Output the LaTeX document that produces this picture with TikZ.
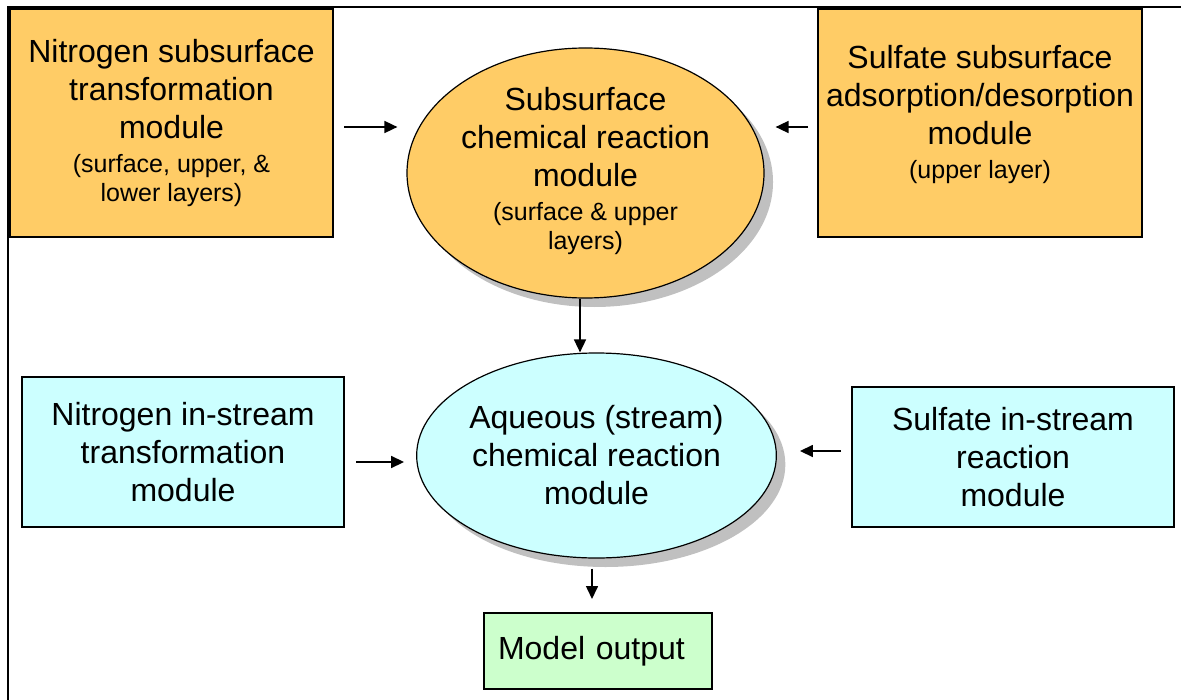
\documentclass[tikz,border=0pt]{standalone}
\usepackage{fontspec}
\setmainfont{Liberation Sans}
\usetikzlibrary{arrows.meta,shapes.geometric,shadows,calc}
\definecolor{modorange}{HTML}{FFCC66}
\definecolor{modcyan}{HTML}{CCFFFF}
\definecolor{modgreen}{HTML}{CCFFCC}
\definecolor{modshadow}{HTML}{C0C0C0}
\newcommand{\bigtext}{\fontsize{16}{19}\selectfont}
\newcommand{\smalltext}{\fontsize{12.5}{14.5}\selectfont}

\begin{document}
\begin{tikzpicture}[x=0.5pt,y=-0.5pt,
    every node/.style={inner sep=2pt,align=center,font=\bigtext},
    >={Triangle[length=6.5pt,width=6pt]},
    modbox/.style={draw,line width=1pt,rectangle},
    modell/.style={draw,line width=0.6pt,ellipse,inner sep=0pt,
      drop shadow={shadow xshift=4.5pt,shadow yshift=-4.5pt,fill=modshadow,opacity=1}},
    flow/.style={->,line width=0.8pt}]
    \useasboundingbox (0,0) rectangle (1181,700);
    \draw[line width=1pt](8,700)--(8,7)--(1181,7);
    \node[modbox,fill=modorange,minimum width=161.5pt,minimum height=114pt](nsub) at (171.5,123)
      {Nitrogen subsurface\\transformation\\module\\[-2pt]{\smalltext(surface, upper, \&}\\[-4.5pt]{\smalltext lower layers)}};
    \node[modell,fill=modorange,minimum width=178.5pt,minimum height=125pt](subchem) at (585.5,173)
      {Subsurface\\chemical reaction\\module\\[-2pt]{\smalltext(surface \& upper}\\[-4.5pt]{\smalltext layers)}\\[-14pt]};
    \node[modbox,fill=modorange,minimum width=162pt,minimum height=114pt](ssub) at (980,123){};
    \node[anchor=north,inner sep=0pt](ssubtext) at ([yshift=-18.5pt]ssub.north)
      {Sulfate subsurface\\adsorption/desorption\\module\\[-2pt]{\smalltext(upper layer)}};
    \node[modbox,fill=modcyan,minimum width=161pt,minimum height=75pt](nstream) at (183,452)
      {Nitrogen in-stream\\transformation\\module};
    \node[modell,fill=modcyan,minimum width=177.5pt,minimum height=102.5pt](aqueous) at (596.5,455.5)
      {Aqueous (stream)\\chemical reaction\\module};
    \node[modbox,fill=modcyan,minimum width=161pt,minimum height=70pt](sstream) at (1013,457)
      {Sulfate in-stream\\reaction\\module};
    \node[modbox,fill=modgreen,minimum height=38pt,text width=100pt,inner xsep=7pt,align=left](output)
      at (598,651){Model output};
    \draw[flow]($(nsub.east)+(5pt,-2pt)$)--($(nsub.east-|subchem.west)+(-4.5pt,-2pt)$);
    \draw[flow]($(ssub.west)+(-4.5pt,-2pt)$)--($(ssub.west-|subchem.east)+(5.5pt,-2pt)$);
    \draw[flow]($(subchem.south)+(-2.75pt,0)$)--($(subchem.south|-aqueous.north)+(-2.75pt,0)$);
    \draw[flow]($(nstream.east)+(5.5pt,-5pt)$)--($(nstream.east-|aqueous.west)+(-6pt,-5pt)$);
    \draw[flow]($(sstream.west)+(-5pt,3pt)$)--($(sstream.west-|aqueous.east)+(11.5pt,3pt)$);
    \draw[flow]($(aqueous.south)+(-2.25pt,-5pt)$)--($(aqueous.south|-output.north)+(-2.25pt,6.5pt)$);
  \end{tikzpicture}
\end{document}
